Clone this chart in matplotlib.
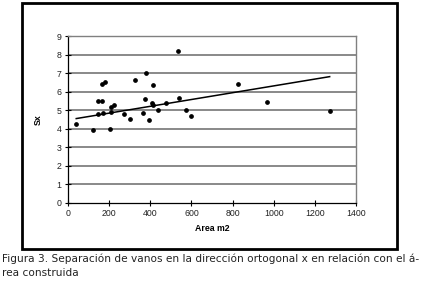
import matplotlib
matplotlib.use("Agg")
import matplotlib.pyplot as plt
from matplotlib.patches import Rectangle

# Data
area = [37, 123, 144, 146, 166, 164, 180, 172, 206, 209, 211, 224, 271, 302,
        325, 364, 375, 378, 396, 411, 409, 412, 437, 474, 534, 541, 573, 597,
        827, 969, 1272]
sx = [4.25, 3.93, 4.80, 5.52, 5.52, 6.40, 6.51, 4.86, 4.00, 4.93, 5.20, 5.27,
      4.80, 4.54, 6.63, 4.86, 5.63, 6.99, 4.50, 6.35, 5.38, 5.30, 5.00, 5.38,
      8.17, 5.68, 5.00, 4.70, 6.42, 5.47, 4.98]
trend_x = [40, 1272]
trend_y = [4.55, 6.81]

xticks = [0, 200, 400, 600, 800, 1000, 1200, 1400]
yticks = [0, 1, 2, 3, 4, 5, 6, 7, 8, 9]

W, H = 421, 284
fig = plt.figure(figsize=(W / 100, H / 100), dpi=100)
fig.patch.set_facecolor("white")

# Outer frame
frame = Rectangle((22 / W, 1 - 249 / H), 375 / W, 246 / H, transform=fig.transFigure,
                  fill=False, edgecolor="black", linewidth=2.0)
fig.patches.append(frame)

ax = fig.add_axes([68 / W, 1 - 203 / H, 288 / W, 167 / H])
ax.set_xlim(0, 1400)
ax.set_ylim(0, 9)
ax.set_xticks(xticks)
ax.set_yticks(yticks)
ax.set_xticklabels([str(t) for t in xticks], fontsize=6.3, family="Liberation Sans", color="#222222")
ax.set_yticklabels([str(t) for t in yticks], fontsize=6.3, family="Liberation Sans", color="#222222")
ax.tick_params(direction="inout", length=5, width=0.8, color="black", pad=2)

for y in yticks[1:]:
    ax.axhline(y, color="#808080", linewidth=1.3, zorder=1)

for side in ["top", "right"]:
    ax.spines[side].set_color("#808080")
    ax.spines[side].set_linewidth(1.0)
for side in ["left", "bottom"]:
    ax.spines[side].set_color("black")
    ax.spines[side].set_linewidth(0.9)

ax.plot(area, sx, "o", color="black", markersize=2.4, zorder=3)
ax.plot(trend_x, trend_y, color="black", linewidth=1.1, zorder=2)

ax.set_xlabel("Area m2", fontsize=6.3, family="Liberation Sans", fontweight="bold", labelpad=4)
ax.set_ylabel("Sx", fontsize=6.3, family="Liberation Sans", fontweight="bold", labelpad=10)

fig.text(2 / W, 1 - 262 / H,
         "Figura 3. Separación de vanos en la dirección ortogonal x en relación con el á-",
         fontsize=7.6, family="DejaVu Sans", color="#222222", va="baseline", ha="left")
fig.text(2 / W, 1 - 276 / H, "rea construida",
         fontsize=7.6, family="DejaVu Sans", color="#222222", va="baseline", ha="left")

fig.savefig("out.png", dpi=100)
